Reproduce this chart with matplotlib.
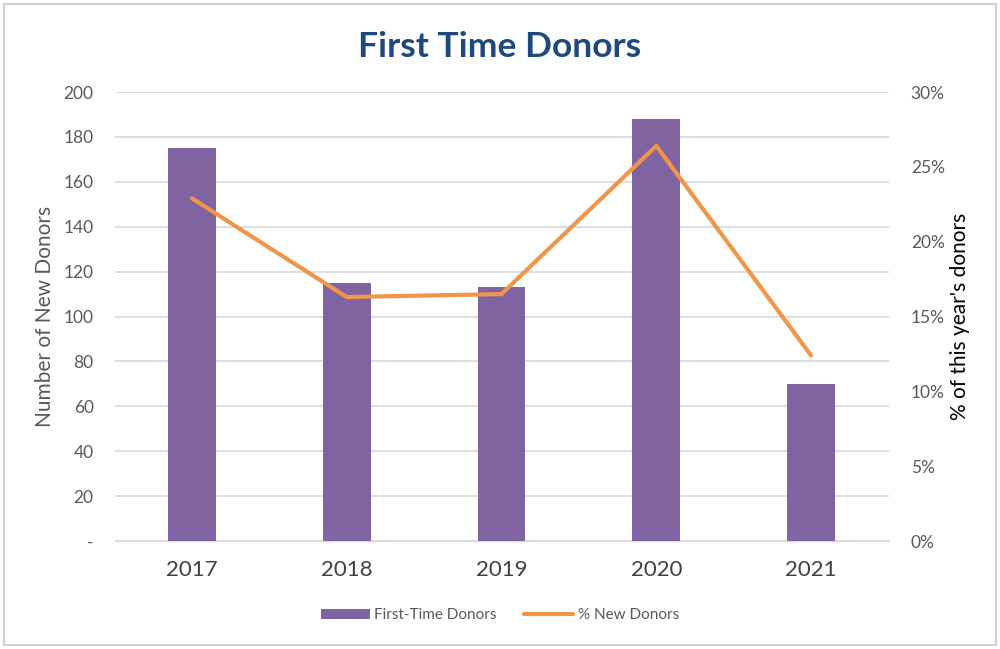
import matplotlib.pyplot as plt
from matplotlib.patches import Rectangle
from matplotlib.ticker import FuncFormatter

plt.rcParams['font.family'] = ['Lato', 'DejaVu Sans']

years = ['2017', '2018', '2019', '2020', '2021']
first_time = [175, 115, 113, 188, 70]
pct_new = [0.229, 0.163, 0.165, 0.264, 0.124]

bar_color = '#8064A2'
line_color = '#F0954A'
grey = '#595959'

fig = plt.figure(figsize=(10, 6.49), dpi=100)
ax = fig.add_axes([0.1145, 0.1664, 0.774, 0.6918])
ax2 = ax.twinx()

x = range(len(years))
bars = ax.bar(x, first_time, width=0.31, color=bar_color, zorder=3, label='First-Time Donors')
line, = ax2.plot(x, pct_new, color=line_color, lw=3, solid_capstyle='round', zorder=4, label='% New Donors')

ax.set_xlim(-0.5, 4.5)
ax.set_ylim(0, 200)
ax.set_yticks(range(0, 201, 20))
ax.yaxis.set_major_formatter(FuncFormatter(lambda v, p: '-' if v == 0 else f'{int(v)}'))
ax2.set_ylim(0, 0.30)
ax2.set_yticks([i * 0.05 for i in range(7)])
ax2.yaxis.set_major_formatter(FuncFormatter(lambda v, p: f'{round(v * 100)}%'))

ax.set_xticks(list(x))
ax.set_xticklabels(years)
ax.grid(axis='y', color='#D9D9D9', lw=1.2, zorder=0)
for a in (ax, ax2):
    for s in a.spines.values():
        s.set_visible(False)
    a.tick_params(length=0, labelsize=12.5, labelcolor=grey)
ax.tick_params(axis='y', pad=15)
ax.tick_params(axis='x', pad=14, labelsize=16, labelcolor='#404040')
ax2.tick_params(axis='y', pad=16)
ax.spines['bottom'].set_visible(True)
ax.spines['bottom'].set_color('#D9D9D9')

ax.set_ylabel('Number of New Donors', fontsize=15, color=grey, labelpad=6)
ax2.set_ylabel("% of this year's donors", fontsize=15, color='black', labelpad=4)

fig.text(0.5, 0.928, 'First Time Donors', ha='center', va='center', fontsize=25.5,
         fontweight='bold', color='#1F497D')

fig.legend([bars, line], ['First-Time Donors', '% New Donors'], loc='center',
           bbox_to_anchor=(0.5, 0.052), ncol=2, frameon=False, fontsize=11,
           labelcolor=grey, handlelength=3.2, columnspacing=1.8, handletextpad=0.3)

fig.patches.append(Rectangle((0.004, 0.006), 0.992, 0.988, transform=fig.transFigure,
                             fill=False, edgecolor='#D0D0D0', lw=1.5))

fig.savefig('out.png', dpi=100)
